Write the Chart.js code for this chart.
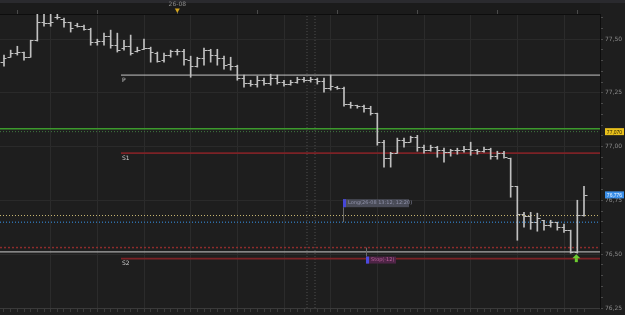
<!DOCTYPE html>
<html>
<head>
<meta charset="utf-8">
<script src="https://cdn.jsdelivr.net/npm/chart.js@4.4.1/dist/chart.umd.min.js"></script>
<style>
  html, body { margin: 0; padding: 0; background: #1e1e1e; }
  #wrap { width: 625px; height: 315px; }
</style>
</head>
<body>
<div id="wrap"><canvas id="priceChart"></canvas></div>
<script>
// OHLC bars
const opens = [
  77.393, 77.416, 77.435, 77.440, 77.416, 77.495, 77.579, 77.574, 77.602, 77.593,
  77.579, 77.565, 77.560, 77.547, 77.486, 77.491, 77.514, 77.472, 77.458, 77.467,
  77.444, 77.453, 77.458, 77.435, 77.402, 77.426, 77.444, 77.444, 77.402, 77.374,
  77.412, 77.449, 77.426, 77.412, 77.384, 77.374, 77.319, 77.295, 77.291, 77.309,
  77.295, 77.319, 77.300, 77.291, 77.300, 77.314, 77.309, 77.314, 77.305, 77.272,
  77.277, 77.272, 77.198, 77.193, 77.188, 77.179, 77.156, 77.021, 76.947, 76.970,
  77.030, 77.021, 77.044, 76.998, 76.984, 76.998, 76.984, 76.974, 76.984, 76.984,
  76.988, 76.984, 76.979, 76.988, 76.956, 76.970, 76.947, 76.816, 76.686, 76.677,
  76.649, 76.658, 76.635, 76.649, 76.626, 76.612, 76.509, 76.681
];
const highs = [
  77.426, 77.449, 77.467, 77.440, 77.495, 77.621, 77.616, 77.616, 77.616, 77.598,
  77.579, 77.574, 77.565, 77.551, 77.500, 77.528, 77.542, 77.528, 77.495, 77.519,
  77.463, 77.500, 77.463, 77.440, 77.435, 77.449, 77.453, 77.453, 77.421, 77.416,
  77.458, 77.453, 77.453, 77.421, 77.416, 77.379, 77.333, 77.309, 77.328, 77.319,
  77.337, 77.333, 77.309, 77.309, 77.323, 77.323, 77.323, 77.319, 77.319, 77.333,
  77.281, 77.277, 77.207, 77.193, 77.193, 77.188, 77.156, 77.030, 76.974, 77.040,
  77.040, 77.049, 77.053, 77.007, 77.007, 77.002, 76.993, 76.988, 76.993, 77.002,
  77.021, 76.988, 76.998, 76.993, 76.979, 76.979, 76.947, 76.816, 76.695, 76.695,
  76.691, 76.658, 76.658, 76.649, 76.640, 76.612, 76.751, 76.816
];
const lows = [
  77.374, 77.416, 77.426, 77.402, 77.416, 77.491, 77.560, 77.560, 77.593, 77.556,
  77.533, 77.556, 77.542, 77.472, 77.472, 77.472, 77.458, 77.440, 77.449, 77.426,
  77.440, 77.453, 77.393, 77.393, 77.393, 77.416, 77.426, 77.379, 77.323, 77.370,
  77.379, 77.393, 77.379, 77.360, 77.356, 77.309, 77.277, 77.281, 77.277, 77.286,
  77.286, 77.291, 77.281, 77.286, 77.295, 77.300, 77.300, 77.291, 77.253, 77.263,
  77.267, 77.188, 77.179, 77.179, 77.160, 77.147, 77.007, 76.905, 76.905, 76.970,
  76.998, 77.021, 76.979, 76.970, 76.979, 76.951, 76.928, 76.956, 76.965, 76.974,
  76.960, 76.965, 76.974, 76.942, 76.942, 76.947, 76.765, 76.565, 76.626, 76.616,
  76.607, 76.612, 76.626, 76.612, 76.602, 76.505, 76.505, 76.677
];
const closes = [
  77.412, 77.435, 77.440, 77.416, 77.495, 77.579, 77.574, 77.579, 77.602, 77.579,
  77.551, 77.560, 77.547, 77.486, 77.491, 77.514, 77.472, 77.449, 77.467, 77.435,
  77.449, 77.458, 77.440, 77.398, 77.426, 77.444, 77.444, 77.407, 77.374, 77.412,
  77.449, 77.426, 77.412, 77.379, 77.374, 77.319, 77.295, 77.291, 77.309, 77.295,
  77.319, 77.300, 77.291, 77.300, 77.314, 77.309, 77.314, 77.305, 77.272, 77.281,
  77.272, 77.198, 77.193, 77.188, 77.179, 77.156, 77.021, 76.947, 76.970, 77.030,
  77.021, 77.044, 76.998, 76.984, 76.998, 76.984, 76.974, 76.984, 76.984, 76.988,
  76.984, 76.979, 76.988, 76.956, 76.970, 76.951, 76.816, 76.686, 76.677, 76.649,
  76.667, 76.635, 76.649, 76.626, 76.612, 76.509, 76.681, 76.776
];
const barNo = opens.map((_, i) => i + 1);

// pivot levels (start part way through the session)
const levelNames = ['P', 'S1', 'S2'];
const levelValues = [77.333, 76.970, 76.480];
const levelStart = 18.55;

// full-width guide lines
const guideValues = [77.084, 77.070, 76.680, 76.649, 76.531, 76.511];
const guideColors = ['#3c9a2c', '#3f7a3f', '#c9b873', '#2f6ea8', '#8e2c2c', '#a9a9a9'];
const guideWidths = [1.5, 1, 1, 1.5, 1.5, 1.2];
const guideDashes = [[], [1, 2], [1, 2], [1, 2], [2, 2], []];

// time markers
const markerBars = [46.45, 47.65];
const hourTicks = [3, 15, 27, 39, 51, 63, 75, 87];
const dateLabelBar = 27;
const dateLabel = '26-08';

// price axis
const majorTicks = [76.25, 76.5, 76.75, 77.0, 77.25, 77.5];
const yTickLabels = ['76,25', '76,50', '76,75', '77,00', '77,25', '77,50'];

// order tags
const longBar = 52, longPrice = 76.649, longText = 'Long(26-08 13:12, 12:20)';
const stopBar = 55, stopPrice = 76.531, stopText = 'Stop(-12)';
const arrowBar = 87;
const markPrice = 77.070, lastPrice = 76.776;

const xMin = 0.4, xMax = 90.4, yMin = 76.25, yMax = 77.617;
const barColor = '#c0c0c0';

const minorTicks = [];
for (let v = 76.25; v < yMax; v += 0.05) minorTicks.push(+v.toFixed(2));
const majorIndex = v => majorTicks.findIndex(m => Math.abs(m - v) < 1e-6);

const datasets = [{
  type: 'bar',
  data: barNo.map((k, i) => ({ x: k, y: [lows[i], highs[i]] })),
  backgroundColor: barColor,
  barThickness: 1,
  borderWidth: 0,
  order: 0
}];

levelValues.forEach(v => datasets.push({
  type: 'line',
  data: [{ x: levelStart, y: v }, { x: xMax, y: v }],
  borderColor: v === levelValues[0] ? '#c4c4c4' : '#7c2226',
  borderWidth: v === levelValues[0] ? 1 : 1.8,
  pointRadius: 0,
  order: 2
}));

guideValues.forEach((v, i) => datasets.push({
  type: 'line',
  data: [{ x: xMin, y: v }, { x: xMax, y: v }],
  borderColor: guideColors[i],
  borderWidth: guideWidths[i],
  borderDash: guideDashes[i],
  pointRadius: 0,
  order: 3
}));

markerBars.forEach(b => datasets.push({
  type: 'line',
  data: [{ x: b, y: yMin }, { x: b, y: yMax }],
  borderColor: '#4c4c4c',
  borderWidth: 1,
  borderDash: [1, 2],
  pointRadius: 0,
  order: 4
}));

const decor = {
  id: 'decor',
  beforeDraw(chart) {
    const { ctx, width, height } = chart;
    ctx.save();
    ctx.fillStyle = '#1e1e1e';
    ctx.fillRect(0, 0, width, height);
    ctx.fillStyle = '#2a2a2e';
    ctx.fillRect(0, 0, width, 3);
    ctx.fillStyle = '#1b1b1b';
    ctx.fillRect(0, 3, 600, 11);
    ctx.restore();
  },
  afterDatasetsDraw(chart) {
    const { ctx, scales: { x, y } } = chart;
    ctx.save();
    // open / close ticks
    ctx.strokeStyle = barColor;
    ctx.lineWidth = 1;
    ctx.beginPath();
    barNo.forEach((k, i) => {
      const px = Math.round(x.getPixelForValue(k) - 0.5) + 0.5;
      const yo = Math.round(y.getPixelForValue(opens[i])) + 0.5;
      const yc = Math.round(y.getPixelForValue(closes[i])) + 0.5;
      ctx.moveTo(px - 3, yo); ctx.lineTo(px, yo);
      ctx.moveTo(px, yc); ctx.lineTo(px + 3, yc);
    });
    ctx.stroke();

    ctx.font = '6px "DejaVu Sans"';
    ctx.textBaseline = 'top';
    // level names
    ctx.fillStyle = '#cfcfcf';
    levelNames.forEach((n, i) => {
      ctx.fillText(n, x.getPixelForValue(levelStart) + 1, y.getPixelForValue(levelValues[i]) + 2);
    });

    // long tag
    const lx = x.getPixelForValue(longBar) - 1;
    const ly = y.getPixelForValue(longPrice);
    ctx.strokeStyle = '#6a6a6a';
    ctx.beginPath(); ctx.moveTo(lx + 0.5, ly - 15); ctx.lineTo(lx + 0.5, ly); ctx.stroke();
    ctx.fillStyle = '#4a4c58';
    ctx.fillRect(lx, ly - 23, 66, 8);
    ctx.fillStyle = '#4646d8';
    ctx.fillRect(lx, ly - 23, 3, 8);
    ctx.fillStyle = '#8e90a8';
    ctx.font = '5px "DejaVu Sans"';
    ctx.fillText(longText, lx + 5, ly - 22);

    // stop tag
    const sx = x.getPixelForValue(stopBar) + 2;
    const sy = y.getPixelForValue(stopPrice);
    ctx.strokeStyle = '#6a6a6a';
    ctx.beginPath(); ctx.moveTo(sx + 0.5, sy); ctx.lineTo(sx + 0.5, sy + 9); ctx.stroke();
    ctx.fillStyle = '#4e2446';
    ctx.fillRect(sx, sy + 9, 30, 7);
    ctx.fillStyle = '#4a4ae0';
    ctx.fillRect(sx, sy + 9, 3, 7);
    ctx.fillStyle = '#b8609a';
    ctx.fillText(stopText, sx + 5, sy + 10);

    // buy arrow under the low
    const ax = x.getPixelForValue(arrowBar) - 1;
    const ay = y.getPixelForValue(lows[arrowBar - 1]) + 1;
    ctx.fillStyle = '#6ccc30';
    ctx.beginPath();
    ctx.moveTo(ax, ay); ctx.lineTo(ax + 4, ay + 4); ctx.lineTo(ax - 4, ay + 4); ctx.closePath();
    ctx.fill();
    ctx.fillRect(ax - 1.5, ay + 4, 3, 4);
    ctx.restore();
  },
  afterDraw(chart) {
    const { ctx, scales: { x, y, x2 } } = chart;
    ctx.save();
    ctx.font = '5px "Liberation Sans"';
    ctx.textBaseline = 'middle';
    ctx.textAlign = 'center';
    // price tags on the axis
    const tag = (v, bg, fg) => {
      const py = y.getPixelForValue(v);
      ctx.fillStyle = bg;
      ctx.fillRect(605, py - 3.5, 19, 7);
      ctx.fillStyle = fg;
      ctx.fillText(v.toFixed(3).replace('.', ','), 614.5, py + 0.5);
    };
    tag(markPrice, '#e8c01c', '#2a2200');
    tag(lastPrice, '#3a8ee8', '#e6f2ff');

    // date marker
    const mx = x2.getPixelForValue(dateLabelBar);
    ctx.fillStyle = '#d4a51e';
    ctx.beginPath();
    ctx.moveTo(mx - 2.5, 8.5); ctx.lineTo(mx + 2.5, 8.5); ctx.lineTo(mx, 13); ctx.closePath();
    ctx.fill();
    ctx.restore();
  }
};

new Chart(document.getElementById('priceChart'), {
  type: 'line',
  data: { datasets },
  options: {
    responsive: true,
    maintainAspectRatio: false,
    animation: false,
    layout: { padding: 0 },
    plugins: { legend: { display: false }, tooltip: { enabled: false } },
    scales: {
      x: {
        type: 'linear', position: 'bottom', min: xMin, max: xMax, offset: false,
        afterBuildTicks: s => { s.ticks = barNo.map(v => ({ value: v })); },
        afterFit: s => { s.height = 7; },
        ticks: { display: false },
        grid: {
          offset: false,
          color: c => (c.tick && c.tick.value > 1 && c.tick.value % 7 === 1) ? '#2b2b2b' : 'transparent',
          tickColor: '#3c3c3c',
          tickLength: 4
        },
        border: { color: '#3a3a3a' }
      },
      x2: {
        type: 'linear', position: 'top', min: xMin, max: xMax, offset: false,
        afterBuildTicks: s => { s.ticks = hourTicks.map(v => ({ value: v })); },
        afterFit: s => { s.height = 14; },
        ticks: {
          autoSkip: false, maxRotation: 0, padding: 2, color: '#8a8a8a',
          font: { family: 'DejaVu Sans', size: 6 },
          callback: v => v === dateLabelBar ? dateLabel : ''
        },
        grid: { drawOnChartArea: false, tickColor: '#4a4a4a', tickLength: 4 },
        border: { color: '#0d0d0d' }
      },
      y: {
        position: 'right', min: yMin, max: yMax,
        afterBuildTicks: s => { s.ticks = minorTicks.map(v => ({ value: v })); },
        afterFit: s => { s.width = 25; },
        ticks: {
          autoSkip: false, padding: 2, color: '#8a8a8a',
          font: { family: 'DejaVu Sans', size: 6 },
          callback: v => { const i = majorIndex(v); return i >= 0 ? yTickLabels[i] : ''; }
        },
        grid: {
          color: c => (c.tick && majorIndex(c.tick.value) >= 0) ? '#2a2a2a' : 'transparent',
          tickColor: '#4a4a4a',
          tickLength: 3
        },
        border: { color: '#0d0d0d' }
      }
    }
  },
  plugins: [decor]
});
</script>
</body>
</html>
